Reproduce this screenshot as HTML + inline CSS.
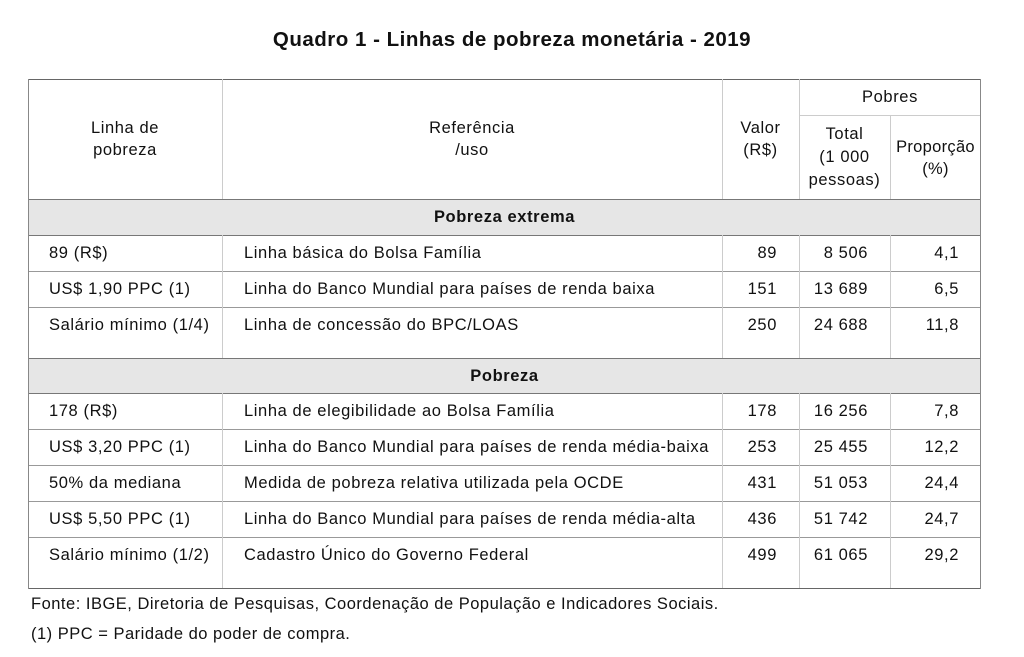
<!DOCTYPE html>
<html><head><meta charset="utf-8"><style>
body{margin:0;width:1024px;height:657px;background:#fff;font-family:"Liberation Sans",sans-serif;color:#111;position:relative;overflow:hidden;letter-spacing:0.6px}
.a{position:absolute}
.t{position:absolute;font-size:16.5px;line-height:36px;white-space:nowrap}
.h{position:absolute;background:#999}
.v{position:absolute;background:#ccc;width:1px}
.sec{position:absolute;left:28px;width:953px;background:#e6e6e6}
.c{text-align:center}
.r{text-align:right}
</style></head><body>
<div class="a" style="left:0;width:1024px;top:28px;text-align:center;font-weight:bold;font-size:20.5px;letter-spacing:0.5px">Quadro 1 - Linhas de pobreza monetária - 2019</div>

<div class="sec" style="top:199px;height:36px"></div>
<div class="sec" style="top:358px;height:35px"></div>

<div class="h" style="left:28px;width:953px;top:79px;height:1px;background:#666"></div>
<div class="h" style="left:799px;width:182px;top:115px;height:1px;background:#ccc"></div>
<div class="h" style="left:28px;width:953px;top:199px;height:1px;background:#777"></div>
<div class="h" style="left:28px;width:953px;top:235px;height:1px;background:#777"></div>
<div class="h" style="left:28px;width:953px;top:271px;height:1px"></div>
<div class="h" style="left:28px;width:953px;top:307px;height:1px"></div>
<div class="h" style="left:28px;width:953px;top:358px;height:1px;background:#777"></div>
<div class="h" style="left:28px;width:953px;top:393px;height:1px;background:#777"></div>
<div class="h" style="left:28px;width:953px;top:429px;height:1px"></div>
<div class="h" style="left:28px;width:953px;top:465px;height:1px"></div>
<div class="h" style="left:28px;width:953px;top:501px;height:1px"></div>
<div class="h" style="left:28px;width:953px;top:537px;height:1px"></div>
<div class="h" style="left:28px;width:953px;top:588px;height:1px;background:#666"></div>

<div class="v" style="left:28px;top:79px;height:510px;background:#888"></div>
<div class="v" style="left:980px;top:79px;height:510px;background:#888"></div>
<div class="v" style="left:222px;top:79px;height:120px"></div>
<div class="v" style="left:722px;top:79px;height:120px"></div>
<div class="v" style="left:799px;top:79px;height:120px"></div>
<div class="v" style="left:890px;top:115px;height:84px"></div>
<div class="v" style="left:222px;top:235px;height:123px"></div>
<div class="v" style="left:722px;top:235px;height:123px"></div>
<div class="v" style="left:799px;top:235px;height:123px"></div>
<div class="v" style="left:890px;top:235px;height:123px"></div>
<div class="v" style="left:222px;top:393px;height:195px"></div>
<div class="v" style="left:722px;top:393px;height:195px"></div>
<div class="v" style="left:799px;top:393px;height:195px"></div>
<div class="v" style="left:890px;top:393px;height:195px"></div>

<div class="a c" style="left:28px;width:194px;top:117px;font-size:16.5px;line-height:22px">Linha de<br>pobreza</div>
<div class="a c" style="left:222px;width:500px;top:117px;font-size:16.5px;line-height:22px">Referência<br>/uso</div>
<div class="a c" style="left:722px;width:77px;top:117px;font-size:16.5px;line-height:22px">Valor<br>(R$)</div>
<div class="a c" style="left:799px;width:182px;top:88px;font-size:16.5px">Pobres</div>
<div class="a c" style="left:799px;width:91px;top:123px;font-size:16.5px;line-height:23px">Total<br>(1 000<br>pessoas)</div>
<div class="a c" style="left:890px;width:91px;top:136px;font-size:16.5px;line-height:22px;letter-spacing:0.3px">Proporção<br>(%)</div>

<div class="t c" style="left:28px;width:953px;top:199px;font-weight:bold">Pobreza extrema</div>
<div class="t c" style="left:28px;width:953px;top:358px;font-weight:bold">Pobreza</div>

<div>
<div class="t" style="left:49px;top:235px">89 (R$)</div><div class="t" style="left:244px;top:235px">Linha básica do Bolsa Família</div><div class="t r" style="left:722px;width:55px;top:235px">89</div><div class="t r" style="left:799px;width:69px;top:235px">8 506</div><div class="t r" style="left:890px;width:69px;top:235px">4,1</div></div>
<div>
<div class="t" style="left:49px;top:271px">US$ 1,90 PPC (1)</div><div class="t" style="left:244px;top:271px">Linha do Banco Mundial para países de renda baixa</div><div class="t r" style="left:722px;width:55px;top:271px">151</div><div class="t r" style="left:799px;width:69px;top:271px">13 689</div><div class="t r" style="left:890px;width:69px;top:271px">6,5</div></div>
<div>
<div class="t" style="left:49px;top:307px">Salário mínimo (1/4)</div><div class="t" style="left:244px;top:307px">Linha de concessão do BPC/LOAS</div><div class="t r" style="left:722px;width:55px;top:307px">250</div><div class="t r" style="left:799px;width:69px;top:307px">24 688</div><div class="t r" style="left:890px;width:69px;top:307px">11,8</div></div>
<div>
<div class="t" style="left:49px;top:393px">178 (R$)</div><div class="t" style="left:244px;top:393px">Linha de elegibilidade ao Bolsa Família</div><div class="t r" style="left:722px;width:55px;top:393px">178</div><div class="t r" style="left:799px;width:69px;top:393px">16 256</div><div class="t r" style="left:890px;width:69px;top:393px">7,8</div></div>
<div>
<div class="t" style="left:49px;top:429px">US$ 3,20 PPC (1)</div><div class="t" style="left:244px;top:429px">Linha do Banco Mundial para países de renda média-baixa</div><div class="t r" style="left:722px;width:55px;top:429px">253</div><div class="t r" style="left:799px;width:69px;top:429px">25 455</div><div class="t r" style="left:890px;width:69px;top:429px">12,2</div></div>
<div>
<div class="t" style="left:49px;top:465px">50% da mediana</div><div class="t" style="left:244px;top:465px">Medida de pobreza relativa utilizada pela OCDE</div><div class="t r" style="left:722px;width:55px;top:465px">431</div><div class="t r" style="left:799px;width:69px;top:465px">51 053</div><div class="t r" style="left:890px;width:69px;top:465px">24,4</div></div>
<div>
<div class="t" style="left:49px;top:501px">US$ 5,50 PPC (1)</div><div class="t" style="left:244px;top:501px">Linha do Banco Mundial para países de renda média-alta</div><div class="t r" style="left:722px;width:55px;top:501px">436</div><div class="t r" style="left:799px;width:69px;top:501px">51 742</div><div class="t r" style="left:890px;width:69px;top:501px">24,7</div></div>
<div>
<div class="t" style="left:49px;top:537px">Salário mínimo (1/2)</div><div class="t" style="left:244px;top:537px">Cadastro Único do Governo Federal</div><div class="t r" style="left:722px;width:55px;top:537px">499</div><div class="t r" style="left:799px;width:69px;top:537px">61 065</div><div class="t r" style="left:890px;width:69px;top:537px">29,2</div></div>

<div class="a" style="left:31px;top:595px;font-size:16.5px;letter-spacing:0.5px">Fonte: IBGE, Diretoria de Pesquisas, Coordenação de População e Indicadores Sociais.</div>
<div class="a" style="left:31px;top:625px;font-size:16.5px;letter-spacing:0.5px">(1) PPC = Paridade do poder de compra.</div>
</body></html>
